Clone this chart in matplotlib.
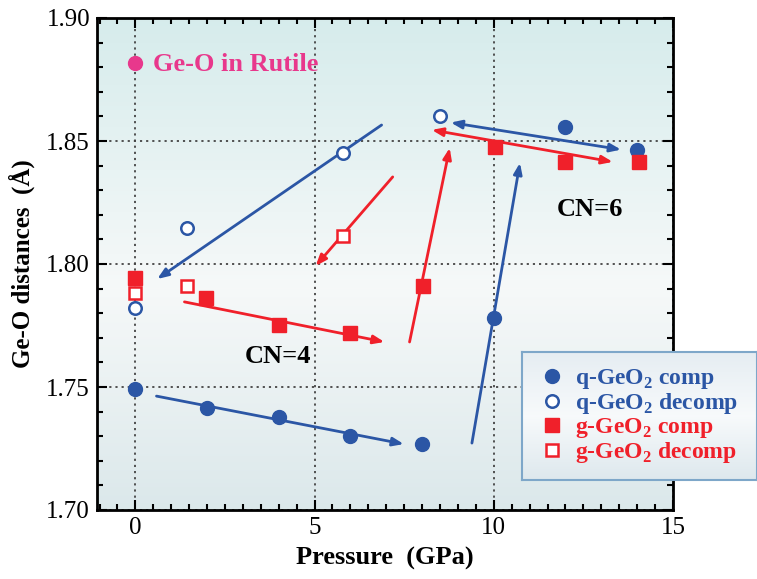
import numpy as np
import matplotlib
matplotlib.use("Agg")
import matplotlib.pyplot as plt
from matplotlib.ticker import MultipleLocator
from matplotlib.colors import LinearSegmentedColormap

plt.rcParams['font.family'] = ['Liberation Serif', 'DejaVu Serif']
plt.rcParams['mathtext.fontset'] = 'custom'
plt.rcParams['mathtext.rm'] = 'Liberation Serif'
plt.rcParams['mathtext.bf'] = 'Liberation Serif:bold'

BLUE = '#2b56a5'
RED = '#f0202a'
MAGENTA = '#e8388c'

# data
q_comp_p = [0, 2, 4, 6, 8, 10, 12, 14]
q_comp_d = [1.749, 1.7415, 1.738, 1.730, 1.7267, 1.778, 1.8555, 1.8463]
q_dec_p = [0, 1.45, 5.78, 8.49]
q_dec_d = [1.7821, 1.8146, 1.8451, 1.8602]
g_comp_p = [0, 1.98, 4.0, 6.0, 8.02, 10.03, 12.0, 14.05]
g_comp_d = [1.7943, 1.7862, 1.7752, 1.772, 1.791, 1.8476, 1.8415, 1.8415]
g_dec_p = [0, 1.45, 5.78]
g_dec_d = [1.7882, 1.791, 1.8114]
rutile_p, rutile_d = 0, 1.8817

# arrows: (x_start, y_start, x_end, y_end, color, double)
arrows = [
    (0.59, 1.7463, 7.49, 1.7268, BLUE, False),
    (9.39, 1.7272, 10.73, 1.8411, BLUE, False),
    (8.80, 1.8575, 13.55, 1.8465, BLUE, True),
    (6.87, 1.8565, 0.61, 1.7939, BLUE, False),
    (1.37, 1.7846, 6.95, 1.7683, RED, False),
    (7.65, 1.7683, 8.77, 1.8472, RED, False),
    (8.27, 1.8545, 13.32, 1.8415, RED, True),
    (7.18, 1.8354, 5.03, 1.7992, RED, False),
]

fig = plt.figure(figsize=(7.57, 5.79), dpi=100)
ax = fig.add_axes([97/757, (579-510)/579, (673-97)/757, (510-18)/579])
ax.set_xlim(-1.07, 15)
ax.set_ylim(1.70, 1.90)

# background gradient
cmap = LinearSegmentedColormap.from_list('bg', [(0.0, (0.86, 0.91, 0.92)),
                                                 (0.45, (0.965, 0.975, 0.975)),
                                                 (1.0, (0.84, 0.925, 0.925))])
grad = np.linspace(0, 1, 256).reshape(-1, 1)
ax.imshow(grad, aspect='auto', cmap=cmap, origin='lower',
          extent=[0, 1, 0, 1], transform=ax.transAxes, zorder=0)

ax.grid(True, which='major', linestyle=(0, (1.2, 2.2)), color='#444444', linewidth=1.3, zorder=1)
ax.xaxis.set_major_locator(MultipleLocator(5))
ax.xaxis.set_minor_locator(MultipleLocator(0.5))
ax.yaxis.set_major_locator(MultipleLocator(0.05))
ax.yaxis.set_minor_locator(MultipleLocator(0.01))
ax.tick_params(which='both', direction='in', top=True, right=True, width=1.5)
ax.tick_params(which='major', length=7, labelsize=18, pad=5)
ax.tick_params(which='minor', length=4)
ax.yaxis.set_major_formatter(matplotlib.ticker.FormatStrFormatter('%.2f'))
for s in ax.spines.values():
    s.set_linewidth(2)

for (x0, y0, x1, y1, c, dbl) in arrows:
    style = '<|-|>,head_length=0.65,head_width=0.25' if dbl else '-|>,head_length=0.65,head_width=0.25'
    ax.annotate('', xy=(x1, y1), xytext=(x0, y0),
                arrowprops=dict(arrowstyle=style, color=c, lw=2.0,
                                shrinkA=0, shrinkB=0), zorder=3)

h1, = ax.plot(q_comp_p, q_comp_d, 'o', color=BLUE, ms=10, ls='none', zorder=4, label=r'q-GeO$_\mathbf{2}$ comp')
h2, = ax.plot(q_dec_p, q_dec_d, 'o', mfc='white', mec=BLUE, mew=1.8, ms=9, ls='none', zorder=4, label=r'q-GeO$_\mathbf{2}$ decomp')
h3, = ax.plot(g_comp_p, g_comp_d, 's', color=RED, ms=10.5, ls='none', zorder=4, label=r'g-GeO$_\mathbf{2}$ comp')
h4, = ax.plot(g_dec_p, g_dec_d, 's', mfc='white', mec=RED, mew=1.8, ms=8.5, ls='none', zorder=4, label=r'g-GeO$_\mathbf{2}$ decomp')
ax.plot([rutile_p], [rutile_d], 'o', color=MAGENTA, ms=10, zorder=4)
ax.text(0.48, rutile_d - 0.0005, 'Ge-O in Rutile', color=MAGENTA, fontsize=19, fontweight='bold',
        va='center', ha='left', zorder=5)
ax.text(3.97, 1.7622, 'CN=4', fontsize=19, fontweight='bold', ha='center', va='center', zorder=5)
ax.text(12.68, 1.822, 'CN=6', fontsize=19, fontweight='bold', ha='center', va='center', zorder=5)

ax.set_xlabel('Pressure  (GPa)', fontsize=19, fontweight='bold', labelpad=6)
ax.set_ylabel('Ge-O distances  (Å)', fontsize=18, fontweight='bold', labelpad=8)

# legend box
lax = fig.add_axes([522/757, (579-480)/579, (757-522)/757, (480-352)/579])
lcmap = LinearSegmentedColormap.from_list('lg', [(0.0, (0.87, 0.91, 0.93)),
                                                  (0.5, (0.97, 0.98, 0.985)),
                                                  (1.0, (0.90, 0.93, 0.95))])
lax.imshow(grad, aspect='auto', cmap=lcmap, origin='lower', extent=[0, 1, 0, 1],
           transform=lax.transAxes, zorder=0)
lax.set_xticks([]); lax.set_yticks([])
for s in lax.spines.values():
    s.set_color('#7ea7c9'); s.set_linewidth(1.5)
leg = lax.legend(handles=[h1, h2, h3, h4], loc='center left', frameon=False,
                 prop={'weight': 'bold', 'size': 17},
                 handletextpad=0.5, labelspacing=0.0, borderaxespad=0.35,
                 handlelength=1.0)
for t, c in zip(leg.get_texts(), [BLUE, BLUE, RED, RED]):
    t.set_color(c)

fig.savefig('out.png', dpi=100)
